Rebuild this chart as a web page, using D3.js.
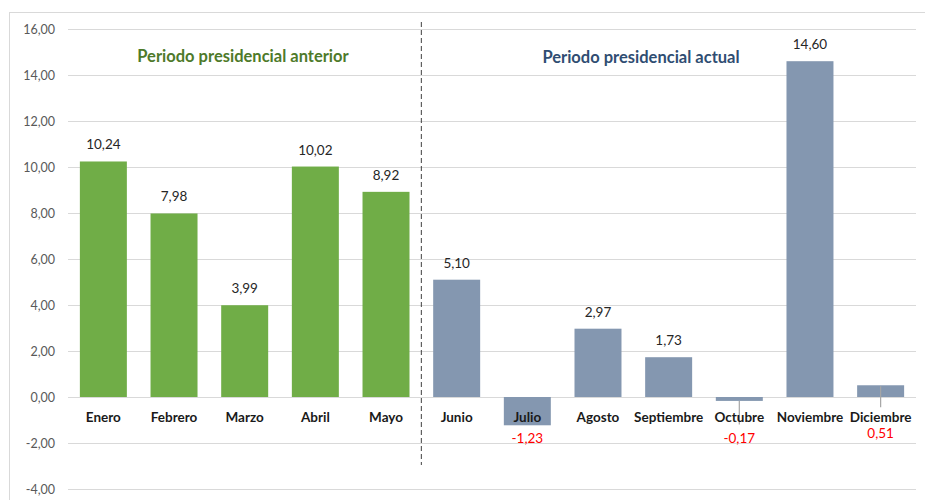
<!DOCTYPE html>
<html>
<head>
<meta charset="utf-8">
<script src="https://cdn.jsdelivr.net/npm/d3@7"></script>
<style>
  body { margin: 0; background: #fff; }
  text { font-family: Lato, "Open Sans", sans-serif; }
</style>
</head>
<body>
<div id="chart"></div>
<script>
const months = ["Enero", "Febrero", "Marzo", "Abril", "Mayo", "Junio", "Julio",
                "Agosto", "Septiembre", "Octubre", "Noviembre", "Diciembre"];
const values = [10.24, 7.98, 3.99, 10.02, 8.92, 5.10, -1.23, 2.97, 1.73, -0.17, 14.60, 0.51];
const previousPeriod = ["Enero", "Febrero", "Marzo", "Abril", "Mayo"];
const yTicks = [-4, -2, 0, 2, 4, 6, 8, 10, 12, 14, 16];
// labels drawn below the axis in red
const redLabels = ["Julio", "Octubre", "Diciembre"];

const width = 925, height = 500;
const margin = {top: 29, right: 9, bottom: 11, left: 68};

const svg = d3.select("#chart").append("svg")
    .attr("width", width)
    .attr("height", height);

// outer frame
svg.append("rect")
    .attr("x", 9.5).attr("y", 12.5)
    .attr("width", 940).attr("height", 500)
    .attr("fill", "none")
    .attr("stroke", "#d9d9d9");

const x = d3.scaleBand()
    .domain(months)
    .range([margin.left, width - margin.right])
    .paddingInner(0.335)
    .paddingOuter(0.168);

const y = d3.scaleLinear()
    .domain([-4, 16])
    .range([height - margin.bottom, margin.top]);

const fmt = v => d3.format(".2f")(v).replace(".", ",").replace("\u2212", "-");

// gridlines + y labels
const yAxis = svg.append("g")
    .attr("transform", "translate(" + margin.left + ",0)")
    .call(d3.axisLeft(y).tickValues(yTicks).tickSize(-(width - margin.right - margin.left))
      .tickFormat(fmt).tickPadding(13));
yAxis.select(".domain").remove();
yAxis.selectAll("line").attr("stroke", "#d9d9d9");
yAxis.selectAll("text").attr("fill", "#595959").style("font-size", "12.5px");

// bars
svg.selectAll(".bar")
  .data(months)
  .enter().append("rect")
    .attr("class", "bar")
    .attr("x", d => x(d))
    .attr("width", x.bandwidth())
    .attr("y", (d, i) => y(Math.max(0, values[i])))
    .attr("height", (d, i) => Math.abs(y(values[i]) - y(0)))
    .attr("fill", d => previousPeriod.includes(d) ? "#70ad47" : "#8497b0");

// leader lines for small bars
["Octubre", "Diciembre"].forEach(m => {
  const i = months.indexOf(m);
  const cx = x(m) + x.bandwidth() / 2;
  const y0 = values[i] < 0 ? y(values[i]) : y(values[i]) + 1;
  svg.append("line")
      .attr("x1", cx).attr("x2", cx)
      .attr("y1", y0).attr("y2", values[i] < 0 ? y(-1.2) : y(-0.45))
      .attr("stroke", "#a6a6a6").attr("stroke-width", 1.2);
});

// month labels
svg.selectAll(".month")
  .data(months)
  .enter().append("text")
    .attr("class", "month")
    .attr("x", d => x(d) + x.bandwidth() / 2)
    .attr("y", y(0) + 25)
    .attr("text-anchor", "middle")
    .style("font-size", "13.5px")
    .style("font-weight", "bold")
    .attr("fill", "#1a1a1a")
    .text(d => d);

// value labels
svg.selectAll(".val")
  .data(months)
  .enter().append("text")
    .attr("class", "val")
    .attr("x", d => x(d) + x.bandwidth() / 2)
    .attr("y", (d, i) => {
      if (redLabels.includes(d)) return d === "Diciembre" ? y(-1.78) : y(-2.0);
      return y(values[i]) - 12;
    })
    .attr("text-anchor", "middle")
    .style("font-size", "13.5px")
    .attr("fill", d => redLabels.includes(d) ? "#ff0000" : "#262626")
    .text((d, i) => fmt(values[i]));

// divider between periods
const divX = (x("Mayo") + x.bandwidth() + x("Junio")) / 2;
svg.append("line")
    .attr("x1", divX).attr("x2", divX)
    .attr("y1", 22).attr("y2", 465)
    .attr("stroke", "#404040")
    .attr("stroke-dasharray", "5,3");

// period titles
svg.append("text")
    .attr("x", 243).attr("y", 62)
    .attr("text-anchor", "middle")
    .style("font-size", "16.5px").style("font-weight", "bold")
    .attr("fill", "#4e7a2a")
    .text("Periodo presidencial anterior");

svg.append("text")
    .attr("x", 641).attr("y", 63)
    .attr("text-anchor", "middle")
    .style("font-size", "16.5px").style("font-weight", "bold")
    .attr("fill", "#2f4d72")
    .text("Periodo presidencial actual");
</script>
</body>
</html>
